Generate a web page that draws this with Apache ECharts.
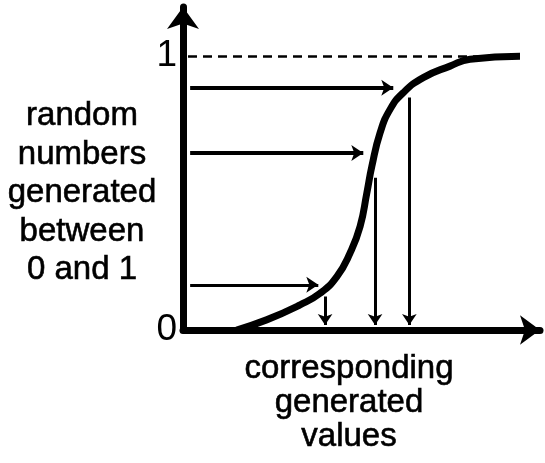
<!DOCTYPE html>
<html>
<head>
<meta charset="utf-8">
<script src="https://cdn.jsdelivr.net/npm/echarts@6/dist/echarts.min.js"></script>
<style>
  html, body { margin: 0; padding: 0; background: #fff; }
  #chart { width: 545px; height: 463px; }
</style>
</head>
<body>
<div id="chart"></div>
<script>
// S-shaped cumulative curve (x in arbitrary units 0..10, y in 0..1)
var curveX = [1.5, 2.34, 3.28, 3.84, 4.31, 4.68, 4.96, 5.15, 5.29, 5.52, 5.80, 6.17, 6.73, 7.48, 8.04, 9.44]
var curveY = [0, 0.037, 0.092, 0.134, 0.195, 0.281, 0.378, 0.501, 0.598, 0.720, 0.806, 0.867, 0.922, 0.964, 0.989, 1.0]

// random numbers drawn on the y axis -> arrows to the curve
var randStartX = [0.2, 0.2, 0.2]
var randY = [0.885, 0.647, 0.165]
var randEndX = [5.89, 5.05, 3.79]

// generated values -> arrows down to the x axis
var genX = [6.34, 5.38, 3.98]
var genTopY = [0.849, 0.556, 0.122]
var genBottomY = [0.018, 0.018, 0.018]

var yTicks = [0, 1]
var dashFrom = [0.14, 1]
var dashTo = [9.3, 1]

var leftLabel = ['random', 'numbers', 'generated', 'between', '0 and 1']
var bottomLabel = ['corresponding', 'generated', 'values']

var chart = echarts.init(document.getElementById('chart'))

var curveData = curveX.map(function (x, i) { return [x, curveY[i]] })
var horizArrows = randY.map(function (y, i) {
    return { coords: [[randStartX[i], y], [randEndX[i], y]], lineStyle: { width: i < 2 ? 4 : 3 } }
})
var vertArrows = genX.map(function (x, i) {
    return { coords: [[x, genTopY[i]], [x, genBottomY[i]]] }
})

var font = 'Liberation Sans, Arial, sans-serif'

chart.setOption({
    animation: false,
    grid: { left: 183, right: 5, top: 7, bottom: 133 },
    xAxis: {
        type: 'value',
        min: 0,
        max: 10,
        splitLine: { show: false },
        axisTick: { show: false },
        axisLabel: { show: false },
        axisLine: {
            symbol: ['none', 'arrow'],
            symbolSize: [22, 20],
            lineStyle: { color: '#000', width: 7 }
        }
    },
    yAxis: {
        type: 'value',
        min: 0,
        max: 1.18,
        splitLine: { show: false },
        axisTick: { show: false },
        axisLabel: {
            customValues: yTicks,
            color: '#000',
            fontSize: 37,
            fontFamily: font,
            margin: 6
        },
        axisLine: {
            symbol: ['none', 'arrow'],
            symbolSize: [24, 22],
            lineStyle: { color: '#000', width: 7 }
        }
    },
    graphic: [{
        type: 'text',
        x: 82,
        y: 193,
        style: {
            text: leftLabel.join('\n'),
            font: '33px ' + font,
            fill: '#000',
            stroke: '#000',
            lineWidth: 0.6,
            align: 'center',
            verticalAlign: 'middle',
            lineHeight: 38.5
        }
    }, {
        type: 'text',
        x: 349,
        y: 403,
        style: {
            text: bottomLabel.join('\n'),
            font: '33px ' + font,
            fill: '#000',
            stroke: '#000',
            lineWidth: 0.6,
            align: 'center',
            verticalAlign: 'middle',
            lineHeight: 34
        }
    }],
    series: [{
        type: 'lines',
        coordinateSystem: 'cartesian2d',
        silent: true,
        lineStyle: { color: '#000', width: 2.5, type: [9, 6], opacity: 1 },
        data: [{ coords: [dashFrom, dashTo] }]
    }, {
        type: 'line',
        data: curveData,
        smooth: 0.5,
        showSymbol: false,
        lineStyle: { color: '#000', width: 7 },
        z: 3
    }, {
        type: 'lines',
        coordinateSystem: 'cartesian2d',
        silent: true,
        symbol: ['none', 'arrow'],
        symbolSize: 12,
        lineStyle: { color: '#000', width: 4, opacity: 1 },
        data: horizArrows,
        z: 4
    }, {
        type: 'lines',
        coordinateSystem: 'cartesian2d',
        silent: true,
        symbol: ['none', 'arrow'],
        symbolSize: 11,
        lineStyle: { color: '#000', width: 3, opacity: 1 },
        data: vertArrows,
        z: 4
    }]
})
</script>
</body>
</html>
